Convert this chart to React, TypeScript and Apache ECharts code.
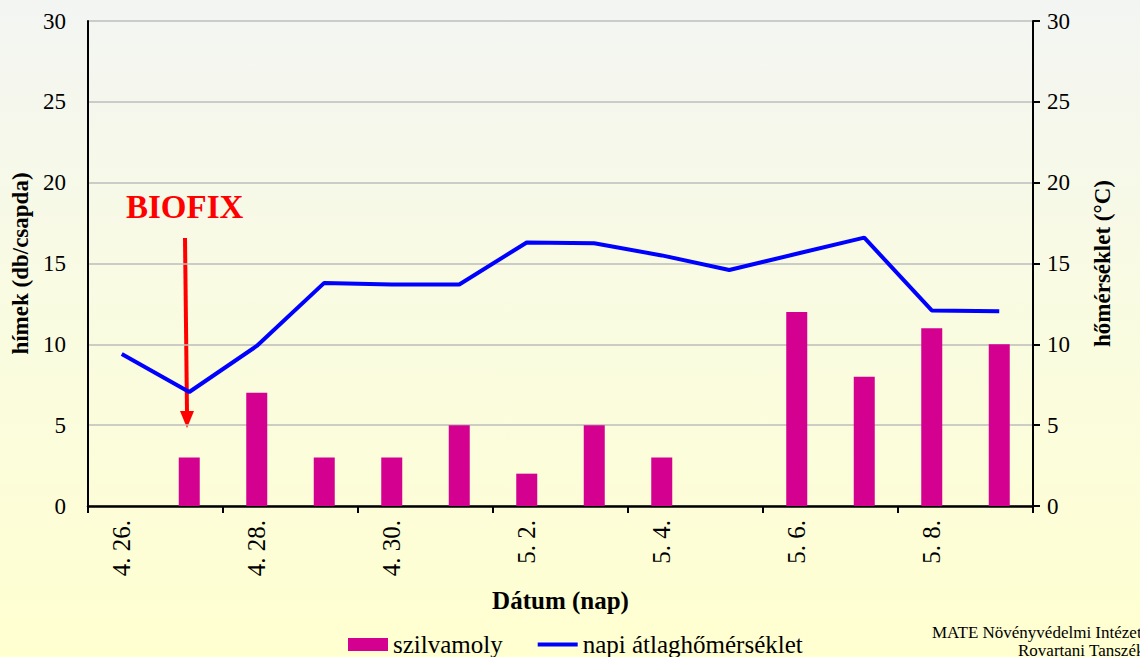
import React, { useEffect, useRef } from "react";
import * as echarts from "echarts";

const categories = ["4. 26.", "4. 27.", "4. 28.", "4. 29.", "4. 30.", "5. 1.", "5. 2.", "5. 3.", "5. 4.", "5. 5.", "5. 6.", "5. 7.", "5. 8.", "5. 9."];
const szilvamoly = [0, 3, 7, 3, 3, 5, 2, 5, 3, 0, 12, 8, 11, 10];
const homerseklet = [9.4, 7.05, 9.9, 13.8, 13.7, 13.7, 16.3, 16.25, 15.5, 14.6, 15.6, 16.6, 12.1, 12.05];
const yTicksLeft = { min: 0, max: 30, interval: 5 };
const yTicksRight = { min: 0, max: 30, interval: 5 };

const SERIF = "Liberation Serif";

export default function App() {
  const ref = useRef<HTMLDivElement>(null);
  useEffect(() => {
    if (!ref.current) return;
    const chart = echarts.init(ref.current, undefined, { renderer: "svg" });
    chart.setOption({
      animation: false,
      backgroundColor: "transparent",
      textStyle: { fontFamily: SERIF, color: "#000" },
      grid: { left: 88, right: 107, top: 21, bottom: 151, containLabel: false },
      legend: {
        left: 343,
        top: 627,
        itemWidth: 40,
        itemHeight: 13,
        itemGap: 35,
        textStyle: { fontFamily: SERIF, fontSize: 25, color: "#000" },
        data: [
          { name: "szilvamoly", icon: "rect" },
          { name: "napi átlaghőmérséklet", icon: "path://M0,0 L40,0 L40,4 L0,4 Z" },
        ],
      },
      xAxis: {
        type: "category",
        data: categories,
        boundaryGap: true,
        name: "Dátum (nap)",
        nameLocation: "middle",
        nameGap: 82,
        nameTextStyle: { fontFamily: SERIF, fontSize: 25, fontWeight: "bold", color: "#000" },
        axisLine: { show: true, lineStyle: { color: "#000", width: 2.5 } },
        axisTick: { show: true, interval: 1, length: 7, lineStyle: { color: "#000", width: 2 } },
        axisLabel: { interval: 1, rotate: 90, margin: 14, fontFamily: SERIF, fontSize: 25, color: "#000" },
        splitLine: { show: false },
      },
      yAxis: [
        {
          type: "value",
          ...yTicksLeft,
          position: "left",
          name: "hímek (db/csapda)",
          nameLocation: "middle",
          nameRotate: 90,
          nameGap: 55,
          nameTextStyle: { fontFamily: SERIF, fontSize: 23, fontWeight: "bold", color: "#000" },
          axisLine: { show: true, lineStyle: { color: "#000", width: 2 } },
          axisTick: { show: false },
          axisLabel: { margin: 22, fontFamily: SERIF, fontSize: 23, color: "#000" },
          splitLine: { show: true, lineStyle: { color: "#bcbcbc", width: 1.5 } },
        },
        {
          type: "value",
          ...yTicksRight,
          position: "right",
          name: "hőmérséklet (°C)",
          nameLocation: "middle",
          nameRotate: 90,
          nameGap: 58,
          nameTextStyle: { fontFamily: SERIF, fontSize: 23, fontWeight: "bold", color: "#000" },
          axisLine: { show: true, lineStyle: { color: "#000", width: 2 } },
          axisTick: { show: true, inside: false, length: 7, lineStyle: { color: "#000", width: 2 } },
          axisLabel: { margin: 14, fontFamily: SERIF, fontSize: 23, color: "#000" },
          splitLine: { show: false },
        },
      ],
      series: [
        {
          name: "szilvamoly",
          type: "bar",
          yAxisIndex: 0,
          data: szilvamoly,
          barWidth: 21,
          itemStyle: { color: "#d40090" },
        },
        {
          name: "napi átlaghőmérséklet",
          type: "line",
          yAxisIndex: 1,
          data: homerseklet,
          symbol: "none",
          showSymbol: false,
          lineStyle: { color: "#0000ff", width: 4 },
          itemStyle: { color: "#0000ff" },
        },
      ],
      graphic: [
        {
          type: "text",
          left: 126,
          top: 190,
          style: { text: "BIOFIX", fontFamily: SERIF, fontSize: 33, fontWeight: "bold", fill: "#ff0000" },
        },
        {
          type: "line",
          shape: { x1: 185, y1: 238, x2: 187, y2: 412 },
          style: { stroke: "#ff0000", lineWidth: 4 },
        },
        {
          type: "polygon",
          shape: { points: [[180, 411], [194, 411], [187, 428]] },
          style: { fill: "#ff0000" },
        },
        {
          type: "text",
          left: 932,
          top: 624,
          style: { text: "MATE Növényvédelmi Intézet", fontFamily: SERIF, fontSize: 17, fill: "#000" },
        },
        {
          type: "text",
          left: 1018,
          top: 642,
          style: { text: "Rovartani Tanszék", fontFamily: SERIF, fontSize: 17, fill: "#000" },
        },
      ],
    });
    return () => chart.dispose();
  }, []);
  return (
    <div
      className="chart-root"
      style={{
        position: "absolute",
        left: 0,
        top: 0,
        width: 1140,
        height: 657,
        background: "linear-gradient(to bottom, #f3f5f3 0%, #f9fbe2 45%, #ffffd0 100%)",
        overflow: "hidden",
      }}
    >
      <style>{`.chart-root svg text { font-family: "Liberation Serif", serif !important; }`}</style>
      <div ref={ref} style={{ width: 1140, height: 657 }} />
    </div>
  );
}
